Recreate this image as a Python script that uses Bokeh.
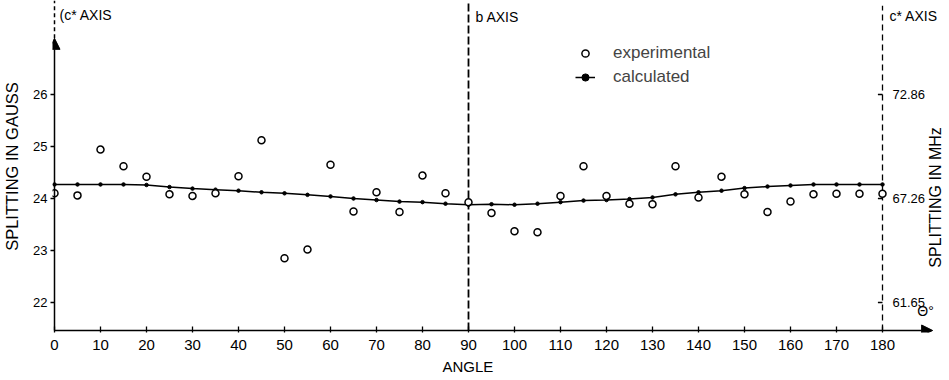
import math
from bokeh.plotting import figure
from bokeh.models import (Range1d, LinearAxis, FixedTicker, Arrow, NormalHead,
                          Label, Legend, LegendItem, Title)
from bokeh.embed import file_html
from bokeh.resources import INLINE
from bokeh.core.properties import value

# ---------------- data ----------------
angles = [0, 5, 10, 15, 20, 25, 30, 35, 40, 45, 50, 55, 60, 65, 70, 75, 80, 85, 90,
          95, 100, 105, 110, 115, 120, 125, 130, 135, 140, 145, 150, 155, 160, 165,
          170, 175, 180]
experimental = [24.10, 24.06, 24.94, 24.62, 24.42, 24.08, 24.05, 24.10, 24.43, 25.12,
                22.85, 23.02, 24.65, 23.75, 24.12, 23.74, 24.44, 24.10, 23.93,
                23.72, 23.37, 23.35, 24.05, 24.62, 24.05, 23.90, 23.89, 24.62, 24.02,
                24.42, 24.08, 23.74, 23.94, 24.08, 24.09, 24.09, 24.09]
calculated = [24.27, 24.27, 24.27, 24.27, 24.26, 24.22, 24.19, 24.17, 24.15, 24.12,
              24.10, 24.07, 24.04, 24.00, 23.97, 23.94, 23.93, 23.90, 23.88,
              23.89, 23.88, 23.90, 23.93, 23.96, 23.97, 23.99, 24.02, 24.08, 24.12,
              24.15, 24.20, 24.23, 24.25, 24.27, 24.27, 24.27, 24.27]
x_ticks = [0, 10, 20, 30, 40, 50, 60, 70, 80, 90, 100, 110, 120, 130, 140, 150, 160, 170, 180]
gauss_ticks = [22, 23, 24, 25, 26]
mhz_ticks = [61.65, 67.26, 72.86]
mhz_labels = ["61.65", "67.26", "72.86"]
GAUSS_TO_MHZ = 2.8025

# ---------------- geometry ----------------
X_START, X_END = -0.4348, 194.565
Y_START, Y_END = 21.423, 27.8077
Y_AXIS_BASE = 21.4615
Y_ARROW_TIP = 27.08
X_ARROW_TIP = 190.9
FONT = "Liberation Sans"

p = figure(width=949, height=380, x_range=Range1d(X_START, X_END),
           y_range=Range1d(Y_START, Y_END), output_backend="svg",
           toolbar_location=None, x_axis_type=None, y_axis_type=None,
           min_border_left=52, min_border_right=0, min_border_top=0,
           min_border_bottom=48)
p.outline_line_color = None
p.background_fill_color = "white"
p.extra_y_ranges = {"mhz": Range1d(Y_START * GAUSS_TO_MHZ, Y_END * GAUSS_TO_MHZ)}

# left axis (gauss)
ly = LinearAxis(ticker=FixedTicker(ticks=gauss_ticks), axis_label="SPLITTING IN GAUSS")
ly.axis_line_color = None
ly.major_tick_out = 2
ly.major_tick_in = 2
ly.minor_tick_out = 0
ly.minor_tick_in = 0
ly.major_tick_line_width = 1.3
ly.major_label_standoff = 3
ly.major_label_text_font = FONT
ly.major_label_text_font_size = "13px"
ly.major_label_text_color = "black"
ly.axis_label_text_font = FONT
ly.axis_label_text_font_style = "normal"
ly.axis_label_text_font_size = "16.5px"
ly.axis_label_text_color = "black"
ly.axis_label_standoff = 9
p.add_layout(ly, "left")

# bottom axis (angle)
bx = LinearAxis(ticker=FixedTicker(ticks=x_ticks))
bx.axis_line_color = None
bx.major_tick_in = 6
bx.major_tick_out = 0
bx.minor_tick_out = 0
bx.minor_tick_in = 0
bx.major_tick_line_width = 1.3
bx.major_label_standoff = 7
bx.major_label_text_font = FONT
bx.major_label_text_font_size = "15px"
bx.major_label_text_color = "black"
p.add_layout(bx, "below")
p.add_layout(Title(text="ANGLE", align="left", offset=390, standoff=6,
                   text_font=FONT, text_font_size="15px", text_font_style="normal",
                   text_color="black"), "below")

# axis lines with arrow heads
p.add_layout(Arrow(end=NormalHead(size=11, fill_color="black", line_color="black"),
                   x_start=0, y_start=Y_AXIS_BASE, x_end=0, y_end=Y_ARROW_TIP,
                   line_width=1.5, line_color="black"))
p.add_layout(Arrow(end=NormalHead(size=11, fill_color="black", line_color="black"),
                   x_start=0, y_start=Y_AXIS_BASE, x_end=X_ARROW_TIP, y_end=Y_AXIS_BASE,
                   line_width=1.5, line_color="black"))
p.add_layout(Arrow(start=None, end=None, x_start=0, y_start=Y_ARROW_TIP, x_end=0,
                   y_end=Y_END, line_width=1.5, line_color="black", line_dash="4 3"))

# dashed crystal axis lines
p.segment(x0=[90], y0=[Y_AXIS_BASE], x1=[90], y1=[Y_END], line_color="black",
          line_width=1.8, line_dash="8 3")
p.segment(x0=[180], y0=[Y_AXIS_BASE], x1=[180], y1=[Y_END - 0.1], line_color="black",
          line_width=1.3, line_dash="6 4")

# right (MHz) scale drawn on the 180 line
p.segment(x0=[179] * 3, y0=mhz_ticks, x1=[180] * 3, y1=mhz_ticks, y_range_name="mhz",
          line_color="black", line_width=1.5)
p.text(x=[180] * 3, y=mhz_ticks, text=mhz_labels, y_range_name="mhz", x_offset=10,
       text_baseline="middle", text_align="left", text_font=value(FONT),
       text_font_size="13px", text_color="black")

# data
calc_line = p.line(angles, calculated, line_color="black", line_width=1.5)
calc_dots = p.scatter(angles, calculated, marker="circle", size=3.5, color="black")
exp_pts = p.scatter(angles, experimental, marker="circle", size=7, fill_color="white",
                    line_color="black", line_width=1.5)

# labels
def lab(x, y, t, size="14px", xoff=0, yoff=0, align="left", angle=0):
    p.add_layout(Label(x=x, y=y, text=t, x_offset=xoff, y_offset=yoff, text_font=FONT,
                       text_font_size=size, text_baseline="middle", text_align=align,
                       angle=angle, text_color="black"))

lab(0, 27.538, "(c* AXIS", xoff=5)
lab(90, 27.50, "b AXIS", xoff=7)
lab(180, 27.519, "c* AXIS", xoff=7)
lab(189.35, 21.846, "Θ°", size="14px", align="center")
lab(191.52, 24.02, "SPLITTING IN MHz", size="16px", align="center", angle=math.pi / 2)

legend = Legend(items=[LegendItem(label="experimental", renderers=[exp_pts]),
                       LegendItem(label="calculated", renderers=[calc_line, calc_dots])],
                location=(523, 245))
legend.border_line_color = None
legend.background_fill_alpha = 0
legend.padding = 0
legend.margin = 0
legend.spacing = 4
legend.glyph_width = 20
legend.glyph_height = 18
legend.label_height = 18
legend.label_standoff = 18
legend.label_text_font = FONT
legend.label_text_font_size = "17px"
p.add_layout(legend)

open("out.html", "w").write(file_html(p, INLINE))
